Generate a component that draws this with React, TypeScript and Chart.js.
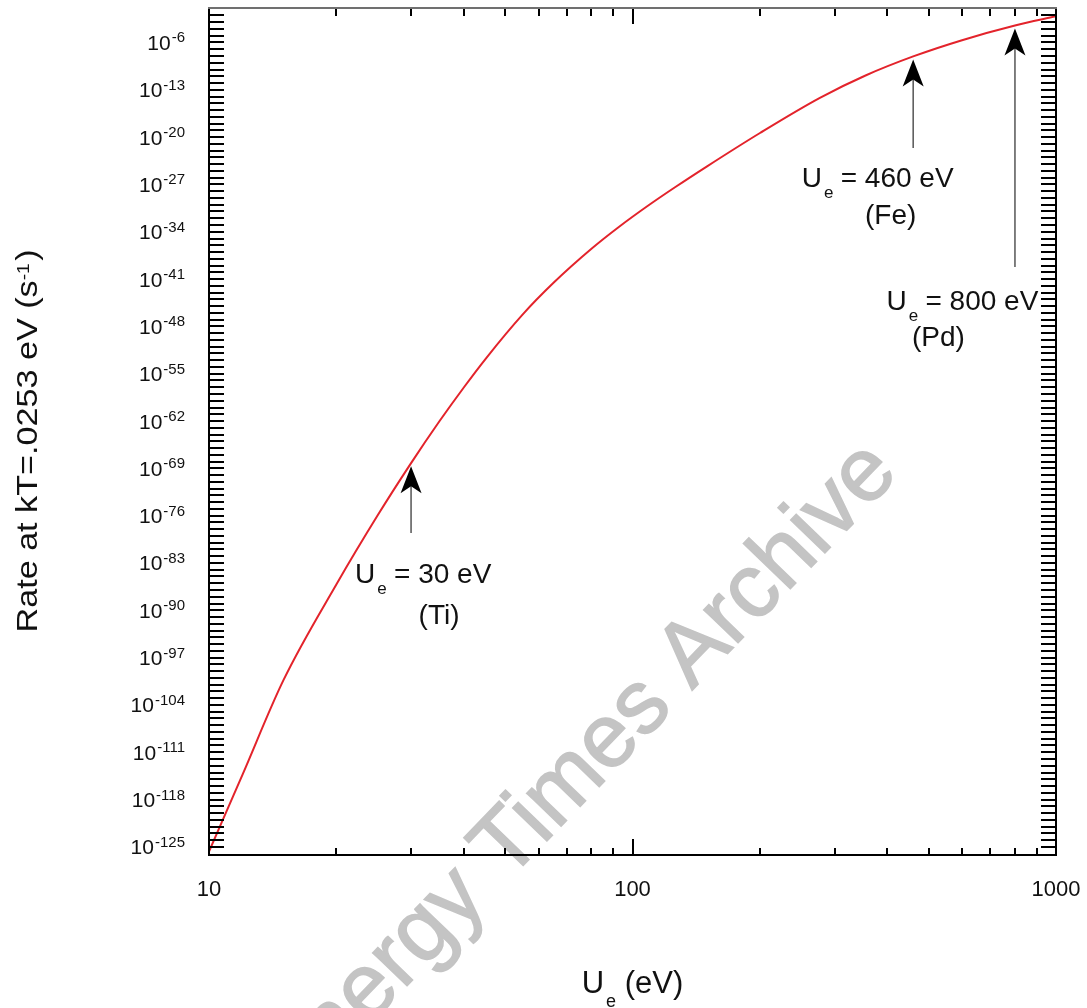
import { useEffect, useRef } from "react";
import { Chart, registerables } from "chart.js";

Chart.register(...registerables);

// Electron screening energy U_e (eV)
const energies = [10, 12, 15, 20, 25, 30, 35, 40, 45, 55, 65, 80, 93, 110, 126, 150, 200, 277, 355, 460, 600, 800, 1000];
// log10 of the rate at kT = .0253 eV (s^-1)
const rateExponents = [-125.7, -114.3, -100.3, -86.15, -75.99, -68.23, -62.04, -57.0, -52.79, -46.26, -41.59, -36.52, -33.26, -29.94, -27.42, -24.32, -19.39, -14.19, -10.88, -8.06, -5.66, -3.49, -2.13];
const rates = rateExponents.map((e) => Math.pow(10, e));

// Axis ticks
const yLabelExponents = [-125, -118, -111, -104, -97, -90, -83, -76, -69, -62, -55, -48, -41, -34, -27, -20, -13, -6];
const xMajorTicks = [10, 100, 1000];
const xMinorTicks = [20, 30, 40, 50, 60, 70, 80, 90, 200, 300, 400, 500, 600, 700, 800, 900];

// Annotations (marked screening energies)
const markEnergies = [30, 460, 800];
const markValues = ["30", "460", "800"];
const markElements = ["Ti", "Fe", "Pd"];

const FONT = "'Liberation Sans', Arial, Helvetica, sans-serif";

// layout offsets for the annotations, relative to the arrow x
const markLayout = [
  { uDx: -56, base: 583, elemDx: 28, elemBase: 624, shaftBottom: 533 },
  { uDx: -111.5, base: 187, elemDx: -22.5, elemBase: 224, shaftBottom: 148 },
  { uDx: -128.5, base: 310, elemDx: -76.5, elemBase: 346, shaftBottom: 267 },
];

export default function App() {
  const ref = useRef<HTMLCanvasElement>(null);

  useEffect(() => {
    const canvas = ref.current;
    if (!canvas) return;

    const overlay = {
      id: "overlay",
      beforeDatasetsDraw(chart: any) {
        const ctx = chart.ctx as CanvasRenderingContext2D;
        ctx.save();
        ctx.translate(596, 790);
        ctx.rotate((-46 * Math.PI) / 180);
        ctx.font = `90px ${FONT}`;
        ctx.fillStyle = "#c4c4c4";
        ctx.strokeStyle = "#c4c4c4";
        ctx.lineWidth = 1.5;
        ctx.textAlign = "center";
        ctx.textBaseline = "alphabetic";
        ctx.fillText("Energy Times Archive", 0, 0);
        ctx.strokeText("Energy Times Archive", 0, 0);
        ctx.restore();
      },
      afterDatasetsDraw(chart: any) {
        const ctx = chart.ctx as CanvasRenderingContext2D;
        const area = chart.chartArea;
        const xs = chart.scales.x;
        const ys = chart.scales.y;
        const { left, right, top, bottom } = area;

        ctx.save();
        // y ticks, every decade, inward on both sides
        ctx.strokeStyle = "#000";
        ctx.lineWidth = 2;
        for (let e = -126; e <= -1; e++) {
          const y = Math.round(ys.getPixelForValue(Math.pow(10, e)));
          if (y < top + 2 || y > bottom - 2) continue;
          ctx.beginPath();
          ctx.moveTo(left, y);
          ctx.lineTo(left + 15, y);
          ctx.moveTo(right - 15, y);
          ctx.lineTo(right, y);
          ctx.stroke();
        }
        // x ticks
        const drawXTick = (v: number, lenB: number, lenT: number) => {
          const x = Math.round(xs.getPixelForValue(v));
          ctx.beginPath();
          ctx.moveTo(x, bottom);
          ctx.lineTo(x, bottom - lenB);
          ctx.moveTo(x, top);
          ctx.lineTo(x, top + lenT);
          ctx.stroke();
        };
        xMinorTicks.forEach((v) => drawXTick(v, 7, 8));
        xMajorTicks.forEach((v) => drawXTick(v, 16, 16));

        // frame
        ctx.lineWidth = 2;
        ctx.strokeStyle = "#000";
        ctx.beginPath();
        ctx.moveTo(left, top);
        ctx.lineTo(left, bottom);
        ctx.lineTo(right, bottom);
        ctx.lineTo(right, top);
        ctx.stroke();
        ctx.strokeStyle = "#707070";
        ctx.beginPath();
        ctx.moveTo(left - 1, top);
        ctx.lineTo(right + 1, top);
        ctx.stroke();

        // y tick labels 10^e
        ctx.fillStyle = "#111";
        ctx.textBaseline = "alphabetic";
        ctx.textAlign = "left";
        yLabelExponents.forEach((e) => {
          const y = ys.getPixelForValue(Math.pow(10, e));
          const sup = String(e);
          ctx.font = `15px ${FONT}`;
          const sw = ctx.measureText(sup).width;
          ctx.font = `21px ${FONT}`;
          const bw = ctx.measureText("10").width;
          const xEnd = 185;
          ctx.fillText("10", xEnd - sw - bw - 1, y + 7.5);
          ctx.font = `15px ${FONT}`;
          ctx.fillText(sup, xEnd - sw, y);
        });

        // x tick labels
        ctx.font = `22px ${FONT}`;
        ctx.textAlign = "center";
        xMajorTicks.forEach((v) => {
          ctx.fillText(String(v), xs.getPixelForValue(v), 896);
        });

        // x title: U_e (eV)
        {
          const cx = (left + right) / 2;
          ctx.textAlign = "left";
          ctx.font = `31px ${FONT}`;
          const uW = ctx.measureText("U").width;
          const rest = " (eV)";
          const rW = ctx.measureText(rest).width;
          ctx.font = `18px ${FONT}`;
          const eW = ctx.measureText("e").width;
          const total = uW + 2 + eW + rW;
          let x = cx - total / 2;
          ctx.font = `31px ${FONT}`;
          ctx.fillText("U", x, 993);
          x += uW + 2;
          ctx.font = `18px ${FONT}`;
          ctx.fillText("e", x, 1007);
          x += eW;
          ctx.font = `31px ${FONT}`;
          ctx.fillText(rest, x, 993);
        }

        // y title: Rate at kT=.0253 eV (s^-1)
        {
          ctx.save();
          ctx.translate(37, 441);
          ctx.rotate(-Math.PI / 2);
          ctx.textAlign = "left";
          const main = "Rate at kT=.0253 eV (s";
          ctx.font = `30px ${FONT}`;
          const mW = ctx.measureText(main).width;
          const cW = ctx.measureText(")").width;
          ctx.font = `17px ${FONT}`;
          const sW = ctx.measureText("-1").width;
          const total = mW + sW + 2 + cW;
          const sx = 383 / total;
          ctx.scale(sx, 1);
          let x = -total / 2;
          ctx.font = `30px ${FONT}`;
          ctx.fillText(main, x, 0);
          x += mW;
          ctx.font = `17px ${FONT}`;
          ctx.fillText("-1", x, -8);
          x += sW + 2;
          ctx.font = `30px ${FONT}`;
          ctx.fillText(")", x, 0);
          ctx.restore();
        }

        // annotations with arrows
        markEnergies.forEach((en, i) => {
          const L = markLayout[i];
          const idx = energies.indexOf(en);
          const ax = xs.getPixelForValue(en);
          const tipY = ys.getPixelForValue(rates[idx]) + 3;
          // shaft
          ctx.strokeStyle = "#555";
          ctx.lineWidth = 1.5;
          ctx.beginPath();
          ctx.moveTo(ax, tipY + 18);
          ctx.lineTo(ax, L.shaftBottom);
          ctx.stroke();
          // head
          ctx.fillStyle = "#000";
          ctx.beginPath();
          ctx.moveTo(ax, tipY);
          ctx.lineTo(ax + 10.5, tipY + 27);
          ctx.lineTo(ax, tipY + 20);
          ctx.lineTo(ax - 10.5, tipY + 27);
          ctx.closePath();
          ctx.fill();
          // text
          ctx.fillStyle = "#111";
          ctx.textAlign = "left";
          const ux = ax + L.uDx;
          ctx.font = `28px ${FONT}`;
          ctx.fillText("U", ux, L.base);
          const uW = ctx.measureText("U").width;
          ctx.font = `17px ${FONT}`;
          ctx.fillText("e", ux + uW + 2, L.base + 11);
          ctx.font = `28px ${FONT}`;
          ctx.fillText(`= ${markValues[i]} eV`, ux + 39, L.base);
          ctx.textAlign = "center";
          ctx.fillText(`(${markElements[i]})`, ax + L.elemDx, L.elemBase);
        });
        ctx.restore();
      },
    };

    const chart = new Chart(canvas, {
      type: "line",
      data: {
        datasets: [
          {
            data: energies.map((x, i) => ({ x, y: rates[i] })),
            borderColor: "#e3232b",
            borderWidth: 2,
            pointRadius: 0,
            fill: false,
            cubicInterpolationMode: "monotone",
          },
        ],
      },
      options: {
        responsive: false,
        animation: false,
        events: [],
        layout: { padding: { left: 209, right: 31, top: 8, bottom: 153 } },
        plugins: { legend: { display: false }, tooltip: { enabled: false }, title: { display: false } },
        scales: {
          x: { type: "logarithmic", min: 10, max: 1000, display: false },
          y: { type: "logarithmic", min: Math.pow(10, -126.2), max: Math.pow(10, -0.9), display: false },
        },
      },
      plugins: [overlay],
    } as any);

    return () => chart.destroy();
  }, []);

  return (
    <div style={{ position: "absolute", left: 0, top: 0, width: 1087, height: 1008, background: "#fff" }}>
      <canvas ref={ref} width={1087} height={1008} style={{ display: "block" }} />
    </div>
  );
}
